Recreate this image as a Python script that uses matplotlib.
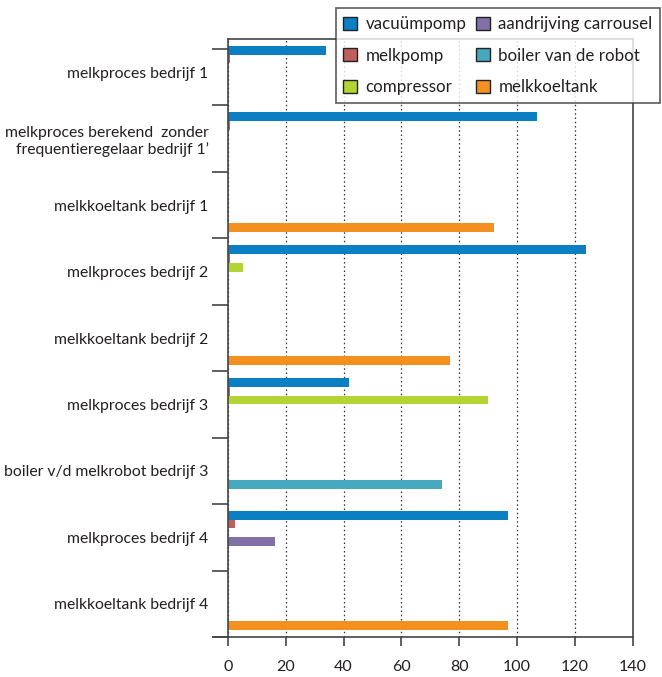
import matplotlib
matplotlib.use("Agg")
import matplotlib.pyplot as plt
import numpy as np

plt.rcParams['font.family'] = ['Lato', 'DejaVu Sans']

categories = [
    "melkproces bedrijf 1",
    "melkproces berekend  zonder\nfrequentieregelaar bedrijf 1’",
    "melkkoeltank bedrijf 1",
    "melkproces bedrijf 2",
    "melkkoeltank bedrijf 2",
    "melkproces bedrijf 3",
    "boiler v/d melkrobot bedrijf 3",
    "melkproces bedrijf 4",
    "melkkoeltank bedrijf 4",
]

series_names = ["vacuümpomp", "melkpomp", "compressor",
                "aandrijving carrousel", "boiler van de robot", "melkkoeltank"]

vacuumpomp   = [34, 107, 0, 124, 0, 42, 0, 97, 0]
melkpomp     = [0.8, 0.7, 0, 0.7, 0, 0.8, 0, 2.3, 0]
compressor   = [0, 0, 0, 5.2, 0, 90, 0, 0, 0]
aandrijving  = [0, 0, 0, 0, 0, 0, 0, 16.3, 0]
boiler       = [0, 0, 0, 0, 0, 0, 74, 0, 0]
melkkoeltank = [0, 0, 92, 0, 77, 0, 0, 0, 97]

colors = ["#0A7FC4", "#BE5F5B", "#B4D334", "#8170A6", "#46A8BE", "#F39020"]

series = [vacuumpomp, melkpomp, compressor, aandrijving, boiler, melkkoeltank]

W, H = 662, 677
fig = plt.figure(figsize=(W / 100, H / 100), dpi=100)
ax = fig.add_axes([228 / W, 1 - 637 / H, (632.5 - 228) / W, (637 - 39) / H])

n = len(series)
h = 0.8 / n
y = np.arange(len(categories))
for j, (vals, name, c) in enumerate(zip(series, series_names, colors)):
    ax.barh(y + (j - (n - 1) / 2) * h, vals, height=h, color=c, label=name,
            edgecolor="none")

ax.set_xlim(0, 140)
ax.set_ylim(len(categories) - 0.5, -0.5)
ax.set_xticks(np.arange(0, 141, 20))

# category labels at the centres, tick marks at the group boundaries
ax.set_yticks(y, minor=True)
ax.set_yticklabels(categories, minor=True)
ax.set_yticks(list(np.arange(0.5, len(categories), 1.0)) + [len(categories) - 0.5, -0.35])
ax.set_yticklabels([])
ax.tick_params(axis="y", which="minor", length=0, pad=14, labelsize=11.3,
               labelcolor="#231F20")
ax.tick_params(axis="y", which="major", length=11.5, width=1.2, color="#444444",
               direction="out")
ax.tick_params(axis="x", length=6.5, width=1.2, color="#444444", pad=10,
               labelsize=11.5, labelcolor="#231F20")
for lab in ax.get_yticklabels(minor=True):
    lab.set_multialignment("right")

ax.xaxis.grid(True, linestyle=(0, (1.2, 2.2)), color="#333333", linewidth=0.9)
ax.set_axisbelow(True)
for s in ax.spines.values():
    s.set_color("#444444")
    s.set_linewidth(1.2)

leg = fig.legend(loc="upper left", bbox_to_anchor=(335.7 / W, 1 - 8.3 / H),
                 ncol=2, fontsize=12.2, frameon=True, fancybox=False,
                 handlelength=0.8, handleheight=0.8, handletextpad=0.5,
                 columnspacing=0.6, labelspacing=0.92, borderpad=0.45,
                 borderaxespad=0)
leg.get_frame().set_edgecolor("#333333")
leg.get_frame().set_linewidth(1.2)
for hdl in leg.legend_handles:
    hdl.set_edgecolor("#222222")
    hdl.set_linewidth(1.0)
for t in leg.get_texts():
    t.set_color("#231F20")

fig.savefig("out.png", dpi=100)
